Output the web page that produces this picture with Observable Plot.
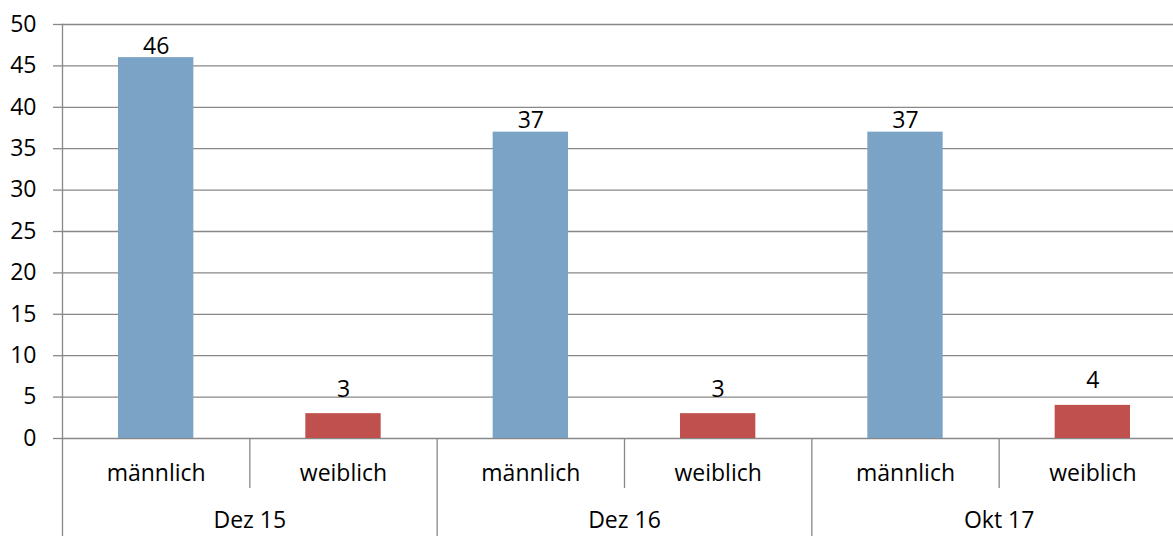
<!DOCTYPE html>
<html>
<head>
<meta charset="utf-8">
<script src="https://cdn.jsdelivr.net/npm/d3@7"></script>
<script src="https://cdn.jsdelivr.net/npm/@observablehq/plot@0.6"></script>
<style>
  html, body { margin: 0; padding: 0; background: #fff; }
  #chart svg { display: block; }
</style>
</head>
<body>
<div id="chart"></div>
<script>
const groups = ["Dez 15", "Dez 16", "Okt 17"];
const genders = ["männlich", "weiblich"];
const maennlich = [46, 37, 37];
const weiblich = [3, 3, 4];
const yTicks = [0, 5, 10, 15, 20, 25, 30, 35, 40, 45, 50];

const seriesValues = [maennlich, weiblich];
const colors = {"männlich": "#7BA3C6", "weiblich": "#C0504D"};
const labelOffset = {"männlich": -4, "weiblich": -17};

const rows = [];
groups.forEach((g, gi) => {
  genders.forEach((s, si) => {
    rows.push({group: g, gender: s, value: seriesValues[si][gi], slot: gi * genders.length + si});
  });
});
const nSlots = groups.length * genders.length;
const slotCenters = d3.range(nSlots).map(i => i + 0.5);
const subDividers = d3.range(groups.length).map(i => i * genders.length + 1);
const groupDividers = d3.range(groups.length + 1).map(i => i * genders.length);
const groupCenters = d3.range(groups.length).map(i => i * genders.length + genders.length / 2);

const font = "'Open Sans', 'Noto Sans', sans-serif";
const grid = "#888888";

const chart = Plot.plot({
  width: 1173,
  height: 536,
  marginLeft: 62,
  marginRight: 0,
  marginTop: 24,
  marginBottom: 98,
  style: {fontFamily: font, fontSize: "23px", color: "#000", background: "#fff"},
  x: {type: "linear", domain: [0, nSlots], range: [62, 1186], axis: null},
  y: {domain: [0, 50], axis: null},
  marks: [
    Plot.ruleY(yTicks, {y: d => d, stroke: grid, strokeWidth: 1.3}),
    Plot.frame({anchor: "left", stroke: grid, strokeWidth: 1.3}),
    Plot.axisY({ticks: yTicks, tickSize: 9, tickPadding: 17, stroke: grid, strokeWidth: 1.3, fill: "#000", fontSize: 23, label: null}),
    Plot.rectY(rows, {x1: d => d.slot, x2: d => d.slot + 1, y: "value", fill: d => colors[d.gender], insetLeft: 56, insetRight: 56}),
    Plot.text(rows.filter(d => d.gender === genders[0]), {x: d => d.slot + 0.5, y: "value", text: d => String(d.value), lineAnchor: "bottom", dy: labelOffset[genders[0]], fontSize: 23, fill: "#000"}),
    Plot.text(rows.filter(d => d.gender === genders[1]), {x: d => d.slot + 0.5, y: "value", text: d => String(d.value), lineAnchor: "bottom", dy: labelOffset[genders[1]], fontSize: 23, fill: "#000"}),
    Plot.ruleX(subDividers, {x: d => d, y1: 0, y2: 0, insetBottom: -50, stroke: grid, strokeWidth: 1.3}),
    Plot.ruleX(groupDividers, {x: d => d, y1: 0, y2: 0, insetBottom: -98, stroke: grid, strokeWidth: 1.3}),
    Plot.axisX({ticks: slotCenters, tickSize: 0, tickPadding: 26, tickFormat: d => genders[Math.floor(d) % genders.length], fill: "#000", fontSize: 23, label: null}),
    Plot.axisX({ticks: groupCenters, tickSize: 0, tickPadding: 73, tickFormat: d => groups[Math.floor(d / genders.length)], fill: "#000", fontSize: 23, label: null})
  ]
});
document.getElementById("chart").appendChild(chart);
</script>
</body>
</html>
